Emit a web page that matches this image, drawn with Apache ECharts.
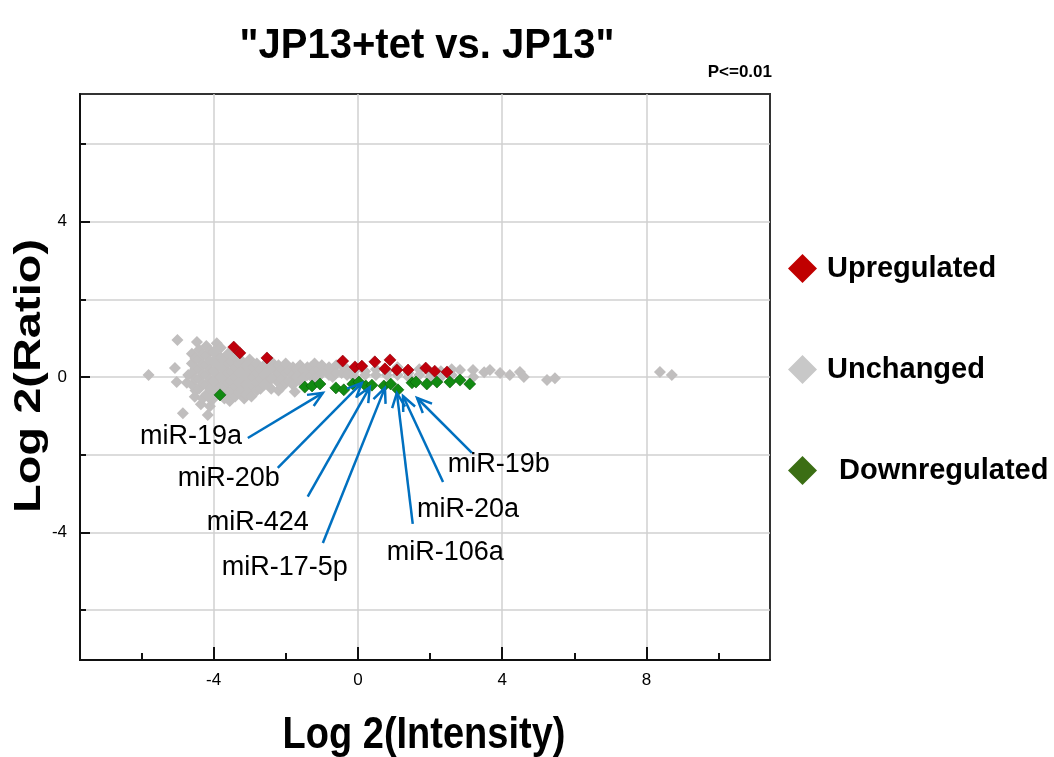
<!DOCTYPE html>
<html>
<head>
<meta charset="utf-8">
<title>JP13+tet vs. JP13</title>
<script src="https://cdn.jsdelivr.net/npm/echarts@6/dist/echarts.min.js"></script>
<style>
  html, body { margin: 0; padding: 0; background: #ffffff; }
  #chart { width: 1054px; height: 757px; }
</style>
</head>
<body>
<div id="chart"></div>
<script>
// MA plot of miRNA array: log2 intensity (x) against log2 ratio (y), P<=0.01

// Tick values
const xMajorTicks = [-4, 0, 4, 8];
const xMinorTicks = [-6, -2, 2, 6, 10];
const yMajorTicks = [-4, 0, 4];
const yMinorTicks = [-6, -2, 2, 6];

// Probes significantly up in JP13+tet
const upregulated = [
  [-3.44, 0.77], [-3.27, 0.62], [-2.52, 0.49], [-0.42, 0.41], [-0.08, 0.26],
  [0.11, 0.28], [0.47, 0.39], [0.89, 0.44], [0.75, 0.21], [1.08, 0.18],
  [1.39, 0.18], [1.88, 0.23], [2.13, 0.15], [2.47, 0.13]
];

// Probes significantly down in JP13+tet
const downregulated = [
  [-3.82, -0.46], [-1.47, -0.26], [-1.27, -0.23], [-1.05, -0.18], [-0.61, -0.28],
  [-0.39, -0.33], [-0.14, -0.18], [0.03, -0.13], [0.22, -0.23], [0.39, -0.21],
  [0.72, -0.23], [0.91, -0.18], [1.11, -0.33], [1.50, -0.15], [1.61, -0.13],
  [1.91, -0.18], [2.19, -0.13], [2.55, -0.13], [2.83, -0.08], [3.10, -0.18]
];

// Probes without significant change
const unchanged = [
  [-5.8, 0.05], [-5.0, 0.95], [-4.46, 0.9], [-3.91, 0.87], [-5.07, 0.23],
  [-5.02, -0.13], [-4.74, -0.15], [-4.52, -0.51], [-4.85, -0.93], [-4.16, -0.98],
  [-4.7, 0.05],
  [-4.6, 0.6], [-4.6, 0.35], [-4.6, 0.1], [-4.6, -0.2],
  [-4.5, 0.48], [-4.5, 0.22], [-4.5, -0.05], [-4.5, -0.35],
  [-4.4, 0.7], [-4.4, 0.45], [-4.4, 0.2], [-4.4, -0.05], [-4.4, -0.3], [-4.35, -0.7],
  [-4.3, 0.58], [-4.3, 0.32], [-4.3, 0.08], [-4.3, -0.18], [-4.3, -0.55],
  [-4.2, 0.8], [-4.2, 0.55], [-4.2, 0.3], [-4.2, 0.05], [-4.2, -0.2], [-4.2, -0.45],
  [-4.1, 0.68], [-4.1, 0.42], [-4.1, 0.18], [-4.1, -0.08], [-4.1, -0.3], [-4.1, -0.75],
  [-4.0, 0.65], [-4.0, 0.4], [-4.0, 0.15], [-4.0, -0.1], [-4.0, -0.35], [-4.05, -0.6],
  [-3.9, 0.55], [-3.9, 0.3], [-3.9, 0.05], [-3.9, -0.2], [-3.9, -0.45],
  [-3.8, 0.75], [-3.8, 0.5], [-3.8, 0.25], [-3.8, 0.0], [-3.8, -0.25],
  [-3.7, 0.45], [-3.7, 0.2], [-3.7, -0.05], [-3.7, -0.3], [-3.7, -0.55],
  [-3.6, 0.6], [-3.6, 0.35], [-3.6, 0.1], [-3.6, -0.15], [-3.6, -0.4], [-3.55, -0.62],
  [-3.5, 0.4], [-3.5, 0.15], [-3.5, -0.1], [-3.5, -0.35],
  [-3.4, 0.5], [-3.4, 0.25], [-3.4, 0.0], [-3.4, -0.25], [-3.4, -0.5],
  [-3.3, 0.35], [-3.3, 0.1], [-3.3, -0.15], [-3.3, -0.4],
  [-3.2, 0.4], [-3.2, 0.15], [-3.2, -0.1], [-3.2, -0.35], [-3.15, -0.55],
  [-3.1, 0.3], [-3.1, 0.05], [-3.1, -0.2], [-3.1, -0.45],
  [-3.0, 0.45], [-3.0, 0.2], [-3.0, -0.05], [-3.0, -0.3], [-2.95, -0.5],
  [-2.9, 0.25], [-2.9, 0.0], [-2.9, -0.25],
  [-2.8, 0.35], [-2.8, 0.1], [-2.8, -0.15], [-2.8, -0.35],
  [-2.7, 0.2], [-2.7, -0.05], [-2.7, -0.3],
  [-2.6, 0.3], [-2.6, 0.05], [-2.6, -0.2],
  [-2.5, 0.15], [-2.5, -0.1],
  [-2.4, 0.4], [-2.4, 0.2], [-2.4, -0.05], [-2.4, -0.3],
  [-2.3, 0.25], [-2.3, 0.0],
  [-2.2, 0.3], [-2.2, 0.1], [-2.2, -0.15], [-2.2, -0.35],
  [-2.1, 0.2], [-2.1, -0.05], [-2.1, -0.25],
  [-2.0, 0.35], [-2.0, 0.1], [-2.0, -0.15],
  [-1.9, 0.15], [-1.9, -0.1],
  [-1.8, 0.25], [-1.8, 0.05], [-1.8, -0.2], [-1.75, -0.38],
  [-1.7, 0.2], [-1.7, 0.0],
  [-1.6, 0.3], [-1.6, 0.1], [-1.6, -0.1],
  [-1.5, 0.18], [-1.5, -0.02],
  [-1.4, 0.25], [-1.4, 0.05],
  [-1.3, 0.25], [-1.3, 0.02],
  [-1.2, 0.35], [-1.2, 0.15], [-1.2, -0.05],
  [-1.1, 0.2], [-1.1, 0.0],
  [-1.0, 0.3], [-1.0, 0.1],
  [-0.9, 0.18],
  [-0.8, 0.25], [-0.8, 0.05],
  [-0.7, 0.2], [-0.7, 0.0],
  [-0.6, 0.3], [-0.6, 0.1],
  [-0.45, 0.3], [-0.45, 0.1],
  [-0.3, 0.2], [-0.3, 0.05],
  [-0.1, 0.15], [-0.1, 0.0],
  [0.2, 0.15], [0.2, 0.05],
  [0.5, 0.2], [0.5, 0.05],
  [0.8, 0.15], [0.8, 0.05],
  [1.1, 0.25], [1.1, 0.05],
  [1.4, 0.1], [1.4, 0.0],
  [1.7, 0.2], [1.7, 0.05],
  [2.0, 0.1], [2.0, 0.0],
  [2.3, 0.15], [2.3, 0.0],
  [2.6, 0.2], [2.6, 0.05],
  [2.83, 0.18], [3.19, 0.18], [3.2, 0.0],
  [3.5, 0.12], [3.66, 0.18], [3.94, 0.1],
  [4.21, 0.05], [4.49, 0.13], [4.6, 0.0],
  [5.24, -0.08], [5.46, -0.03],
  [8.37, 0.13], [8.7, 0.05]
];

// Annotated miRNAs: label anchor, arrow tail and arrow tip (data units)
const annotNames = ['miR-19a', 'miR-20b', 'miR-424', 'miR-17-5p', 'miR-106a', 'miR-20a', 'miR-19b'];
const annotLabelAt = [[-6.04, -1.54], [-4.99, -2.62], [-4.19, -3.75], [-3.77, -4.9], [0.80, -4.52], [1.64, -3.42], [2.49, -2.24]];
const annotTail = [[-3.05, -1.57], [-2.22, -2.34], [-1.39, -3.08], [-0.97, -4.27], [1.52, -3.78], [2.36, -2.70], [3.16, -1.95]];
const annotTip = [[-0.97, -0.41], [0.11, -0.15], [0.33, -0.26], [0.75, -0.28], [1.08, -0.41], [1.25, -0.49], [1.64, -0.54]];

const FONT = '"Liberation Sans", Arial, Helvetica, sans-serif';
const ARROW_BLUE = '#0070c0';

const chart = echarts.init(document.getElementById('chart'), null, { renderer: 'canvas' });

const option = {
  backgroundColor: '#ffffff',
  animation: false,
  grid: {
    left: 80, right: 284, top: 94, bottom: 97,
    show: true, borderColor: '#333333', borderWidth: 2, backgroundColor: '#ffffff'
  },
  xAxis: [
    {
      type: 'value', min: -7.7, max: 11.42,
      axisLine: { show: true, onZero: false, lineStyle: { color: '#111111', width: 2 } },
      axisTick: { show: true, inside: true, length: 13, customValues: xMajorTicks, lineStyle: { color: '#111111', width: 2 } },
      axisLabel: { customValues: xMajorTicks, color: '#000000', fontSize: 17, fontFamily: FONT, margin: 12 },
      splitLine: { show: true, lineStyle: { color: '#d0d0d0', width: 1.5 } }
    },
    {
      type: 'value', min: -7.7, max: 11.42, position: 'bottom',
      axisLine: { show: false, onZero: false },
      axisTick: { show: true, inside: true, length: 7, customValues: xMinorTicks, lineStyle: { color: '#111111', width: 2 } },
      axisLabel: { show: false },
      splitLine: { show: false }
    }
  ],
  yAxis: [
    {
      type: 'value', min: -7.28, max: 7.28,
      axisLine: { show: true, onZero: false, lineStyle: { color: '#111111', width: 2 } },
      axisTick: { show: true, inside: true, length: 10, customValues: yMajorTicks, lineStyle: { color: '#111111', width: 2 } },
      axisLabel: { customValues: yMajorTicks, color: '#000000', fontSize: 17, fontFamily: FONT, margin: 13 },
      splitLine: { show: true, lineStyle: { color: '#d0d0d0', width: 1.5 } }
    },
    {
      type: 'value', min: -7.28, max: 7.28, position: 'left',
      axisLine: { show: false, onZero: false },
      axisTick: { show: true, inside: true, length: 6, customValues: yMinorTicks, lineStyle: { color: '#111111', width: 2 } },
      axisLabel: { show: false },
      splitLine: { show: true, lineStyle: { color: '#d0d0d0', width: 1.5 } }
    }
  ],
  legend: {
    orient: 'vertical',
    left: 783, top: 249,
    itemWidth: 29, itemHeight: 29, itemGap: 72,
    icon: 'diamond',
    selectedMode: false,
    formatter: function (name) {
      return name === 'Downregulated' ? '{d|' + name + '}' : '{a|' + name + '}';
    },
    textStyle: {
      color: '#000000', fontSize: 29, fontWeight: 'bold', fontFamily: FONT,
      rich: {
        a: { color: '#000000', fontSize: 29, fontWeight: 'bold', fontFamily: FONT, padding: [0, 0, 0, 5] },
        d: { color: '#000000', fontSize: 29, fontWeight: 'bold', fontFamily: FONT, padding: [0, 0, 0, 17] }
      }
    },
    data: [
      { name: 'Upregulated', itemStyle: { color: '#c00000', borderWidth: 0 } },
      { name: 'Unchanged', itemStyle: { color: '#c8c8c8', borderWidth: 0 } },
      { name: 'Downregulated', itemStyle: { color: '#3b6e14', borderWidth: 0 } }
    ]
  },
  graphic: [
    {
      type: 'text', x: 427, y: 46, scaleY: 1.05, z: 10,
      style: { text: '"JP13+tet vs. JP13"', font: 'bold 40px ' + FONT, fill: '#000000', textAlign: 'center', textVerticalAlign: 'middle' }
    },
    {
      type: 'text', x: 772, y: 72, z: 10,
      style: { text: 'P<=0.01', font: 'bold 17px ' + FONT, fill: '#000000', textAlign: 'right', textVerticalAlign: 'middle' }
    },
    {
      type: 'text', x: 424, y: 736, scaleY: 1.15, z: 10,
      style: { text: 'Log 2(Intensity)', font: 'bold 38px ' + FONT, fill: '#000000', textAlign: 'center', textVerticalAlign: 'middle' }
    },
    {
      type: 'text', x: 30, y: 376, rotation: Math.PI / 2, scaleX: 1.27, z: 10,
      style: { text: 'Log 2(Ratio)', font: 'bold 37px ' + FONT, fill: '#000000', textAlign: 'center', textVerticalAlign: 'middle' }
    }
  ],
  series: [
    {
      name: 'Unchanged', type: 'scatter', symbol: 'diamond', symbolSize: 12,
      itemStyle: { color: '#c0bebe', opacity: 1 },
      data: unchanged, z: 2
    },
    {
      name: 'Upregulated', type: 'scatter', symbol: 'diamond', symbolSize: 12,
      itemStyle: { color: '#c0000c', borderColor: '#8a0008', borderWidth: 0.6, opacity: 1 },
      data: upregulated, z: 3
    },
    {
      name: 'Downregulated', type: 'scatter', symbol: 'diamond', symbolSize: 12,
      itemStyle: { color: '#128a12', borderColor: '#0a5a0a', borderWidth: 0.6, opacity: 1 },
      data: downregulated, z: 3
    },
    {
      name: 'annotations', type: 'custom', z: 5, silent: true,
      data: annotTip,
      renderItem: function (params, api) {
        const i = params.dataIndex;
        const tip = api.coord(annotTip[i]);
        const tail = api.coord(annotTail[i]);
        const lab = api.coord(annotLabelAt[i]);
        const ang = Math.atan2(tail[1] - tip[1], tail[0] - tip[0]);
        const headLen = 16, headAng = 0.42;
        const h1 = [tip[0] + headLen * Math.cos(ang + headAng), tip[1] + headLen * Math.sin(ang + headAng)];
        const h2 = [tip[0] + headLen * Math.cos(ang - headAng), tip[1] + headLen * Math.sin(ang - headAng)];
        return {
          type: 'group',
          children: [
            { type: 'line', shape: { x1: tail[0], y1: tail[1], x2: tip[0], y2: tip[1] },
              style: { stroke: ARROW_BLUE, lineWidth: 2.5 } },
            { type: 'polyline', shape: { points: [h1, tip, h2] },
              style: { stroke: ARROW_BLUE, lineWidth: 2.5, fill: null } },
            { type: 'text', x: lab[0], y: lab[1],
              style: { text: annotNames[i], font: '27px ' + FONT, fill: '#000000', textAlign: 'left', textVerticalAlign: 'middle' } }
          ]
        };
      }
    }
  ]
};

chart.setOption(option);
</script>
</body>
</html>
